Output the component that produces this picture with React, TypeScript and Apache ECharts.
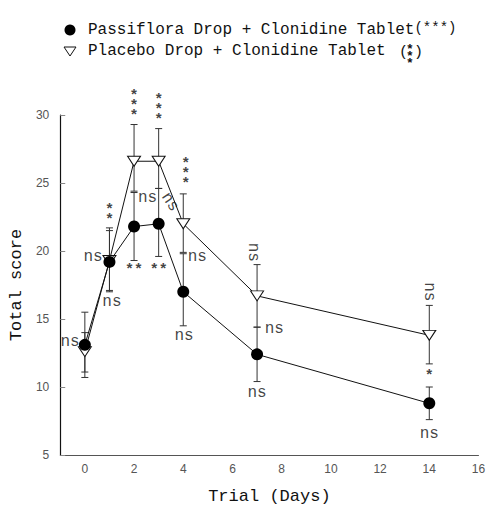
import React, { useEffect, useRef } from 'react';
import * as echarts from 'echarts';

const days = [0, 1, 2, 3, 4, 7, 14];
const passifloraMean = [13.1, 19.2, 21.8, 22.0, 17.0, 12.4, 8.8];
const passifloraHigh = [15.5, 21.7, 24.3, 24.6, 19.8, 14.4, 10.0];
const passifloraLow = [10.7, 17.0, 19.3, 19.6, 14.5, 10.4, 7.6];
const placeboMean = [12.6, 19.3, 26.6, 26.6, 22.0, 16.7, 13.8];
const placeboHigh = [14.0, 21.5, 29.3, 29.0, 24.2, 19.0, 16.0];
const placeboLow = [11.1, 17.1, 24.4, 24.6, 19.9, 14.4, 11.7];

const seriesNames = [
  'Passiflora Drop + Clonidine Tablet',
  'Placebo Drop + Clonidine Tablet',
];
const yTicks = [5, 10, 15, 20, 25, 30];

// significance marks: [day, score, text, rotate]
const marks: [number, number, string, number][] = [
  [-0.6, 13.3, 'ns', 0],
  [0.33, 19.55, 'ns', 0],
  [1.0, 22.6, '*\n*', 0],
  [1.1, 16.25, 'ns', 0],
  [2.0, 30.6, '*\n*\n*', 0],
  [2.55, 23.9, 'ns', 0],
  [2.0, 18.6, '**', 0],
  [3.0, 30.3, '*\n*\n*', 0],
  [3.45, 23.6, 'ns', -57],
  [3.0, 18.6, '**', 0],
  [4.1, 25.6, '*\n*\n*', 0],
  [4.57, 19.55, 'ns', 0],
  [4.03, 13.75, 'ns', 0],
  [6.85, 19.9, 'ns', -90],
  [7.7, 14.3, 'ns', 0],
  [7.0, 9.55, 'ns', 0],
  [14.0, 17.0, 'ns', -90],
  [14.0, 10.8, '*', 0],
  [14.0, 6.55, 'ns', 0],
];

const mono = 'Liberation Mono';

const errorBar = (params: any, api: any) => {
  const x = api.value(0);
  const lo = api.coord([x, api.value(1)]);
  const hi = api.coord([x, api.value(2)]);
  const style = { stroke: '#333', lineWidth: 1 };
  return {
    type: 'group',
    children: [
      { type: 'line', shape: { x1: lo[0], y1: lo[1], x2: hi[0], y2: hi[1] }, style },
      { type: 'line', shape: { x1: lo[0] - 3.5, y1: lo[1], x2: lo[0] + 3.5, y2: lo[1] }, style },
      { type: 'line', shape: { x1: hi[0] - 3.5, y1: hi[1], x2: hi[0] + 3.5, y2: hi[1] }, style },
    ],
  };
};

const App: React.FC = () => {
  const chartref = useRef<HTMLDivElement>(null);
  useEffect(() => {
    const myChart = echarts.init(chartref.current as HTMLDivElement, undefined, {
      renderer: 'svg',
    });

    const option: echarts.EChartsOption = {
      animation: false,
      backgroundColor: '#fff',
      grid: { left: 58.6, right: 11.5, top: 115, bottom: 64 },
      xAxis: {
        type: 'value',
        min: -1,
        max: 16,
        interval: 1,
        name: 'Trial (Days)',
        nameLocation: 'middle',
        nameGap: 33,
        nameTextStyle: { fontFamily: mono, fontSize: 17, color: '#111' },
        axisLine: { onZero: false, lineStyle: { color: '#555', width: 1 } },
        axisTick: { show: false },
        splitLine: { show: false },
        axisLabel: {
          margin: 8,
          fontFamily: 'Liberation Sans',
          fontSize: 12,
          color: '#555',
          formatter: (v: number) => (v >= 0 && v % 2 === 0 ? String(v) : ''),
        },
      },
      yAxis: {
        type: 'value',
        min: yTicks[0],
        max: yTicks[yTicks.length - 1],
        interval: 5,
        name: 'Total score',
        nameLocation: 'middle',
        nameGap: 32,
        nameTextStyle: { fontFamily: mono, fontSize: 17, color: '#111' },
        axisLine: { show: true, onZero: false, lineStyle: { color: '#111', width: 1.2 } },
        axisTick: { show: true, inside: true, length: 5, lineStyle: { color: '#888' } },
        splitLine: { show: false },
        axisLabel: {
          margin: 11,
          fontFamily: 'Liberation Sans',
          fontSize: 12,
          color: '#555',
        },
      },
      graphic: [
        { type: 'circle', shape: { cx: 70, cy: 30, r: 5.5 }, style: { fill: '#000' } },
        {
          type: 'text',
          x: 88,
          y: 30,
          style: {
            text: seriesNames[0] + '{s|(***)}',
            fontFamily: mono,
            fontSize: 16,
            fill: '#111',
            verticalAlign: 'middle',
            rich: { s: { fontFamily: mono, fontSize: 14, fill: '#111', padding: [0, 0, 4, 0] } },
          } as any,
        },
        {
          type: 'polygon',
          shape: { points: [[64, 47], [76, 47], [70, 56]] },
          style: { fill: '#fff', stroke: '#111', lineWidth: 1 },
        },
        {
          type: 'text',
          x: 88,
          y: 51,
          style: {
            text: seriesNames[1],
            fontFamily: mono,
            fontSize: 16,
            fill: '#111',
            verticalAlign: 'middle',
          },
        },
        {
          type: 'text',
          x: 399,
          y: 52,
          style: { text: '(', fontFamily: mono, fontSize: 15, fill: '#111', verticalAlign: 'middle' },
        },
        {
          type: 'text',
          x: 410,
          y: 56,
          style: {
            text: '*\n*\n*',
            fontFamily: mono,
            fontSize: 13,
            fontWeight: 'bold',
            lineHeight: 7,
            fill: '#111',
            align: 'center',
            verticalAlign: 'middle',
          },
        },
        {
          type: 'text',
          x: 414,
          y: 52,
          style: { text: ')', fontFamily: mono, fontSize: 15, fill: '#111', verticalAlign: 'middle' },
        },
      ],
      series: [
        {
          type: 'custom',
          name: 'passifloraErr',
          renderItem: errorBar as any,
          encode: { x: 0, y: [1, 2] },
          data: days.map((d, i) => [d, passifloraLow[i], passifloraHigh[i]]),
          z: 1,
          silent: true,
        },
        {
          type: 'custom',
          name: 'placeboErr',
          renderItem: errorBar as any,
          encode: { x: 0, y: [1, 2] },
          data: days.map((d, i) => [d, placeboLow[i], placeboHigh[i]]),
          z: 1,
          silent: true,
        },
        {
          type: 'line',
          name: seriesNames[1],
          data: days.map((d, i) => [d, placeboMean[i]]),
          symbol: 'path://M0,0L12,0L6,10Z',
          symbolSize: [13, 10],
          showAllSymbol: true,
          lineStyle: { color: '#111', width: 1 },
          itemStyle: { color: '#fff', borderColor: '#111', borderWidth: 1 },
          z: 3,
        },
        {
          type: 'line',
          name: seriesNames[0],
          data: days.map((d, i) => [d, passifloraMean[i]]),
          symbol: 'circle',
          symbolSize: 12,
          showAllSymbol: true,
          lineStyle: { color: '#111', width: 1 },
          itemStyle: { color: '#000', borderColor: '#000', borderWidth: 0 },
          z: 4,
        },
        {
          type: 'scatter',
          name: 'marks',
          silent: true,
          clip: false,
          symbolSize: 1,
          itemStyle: { color: 'rgba(0,0,0,0)' },
          z: 5,
          data: marks.map(([x, y, t, r]) => ({
            value: [x, y],
            label: {
              show: true,
              position: 'inside',
              formatter: t,
              rotate: r,
              fontFamily: mono,
              fontSize: t.includes('*') ? 15 : 16,
              fontWeight: t.includes('*') ? 'bold' : 'normal',
              lineHeight: t.includes('*') ? 10 : 16,
              color: '#111',
            },
          })),
        },
      ],
    };
    myChart.setOption(option);

    return () => {
      myChart.dispose();
    };
  }, []);

  return (
    <div
      ref={chartref}
      style={{ position: 'fixed', left: 0, top: 0, width: 490, height: 519 }}
    />
  );
};
export default App;
